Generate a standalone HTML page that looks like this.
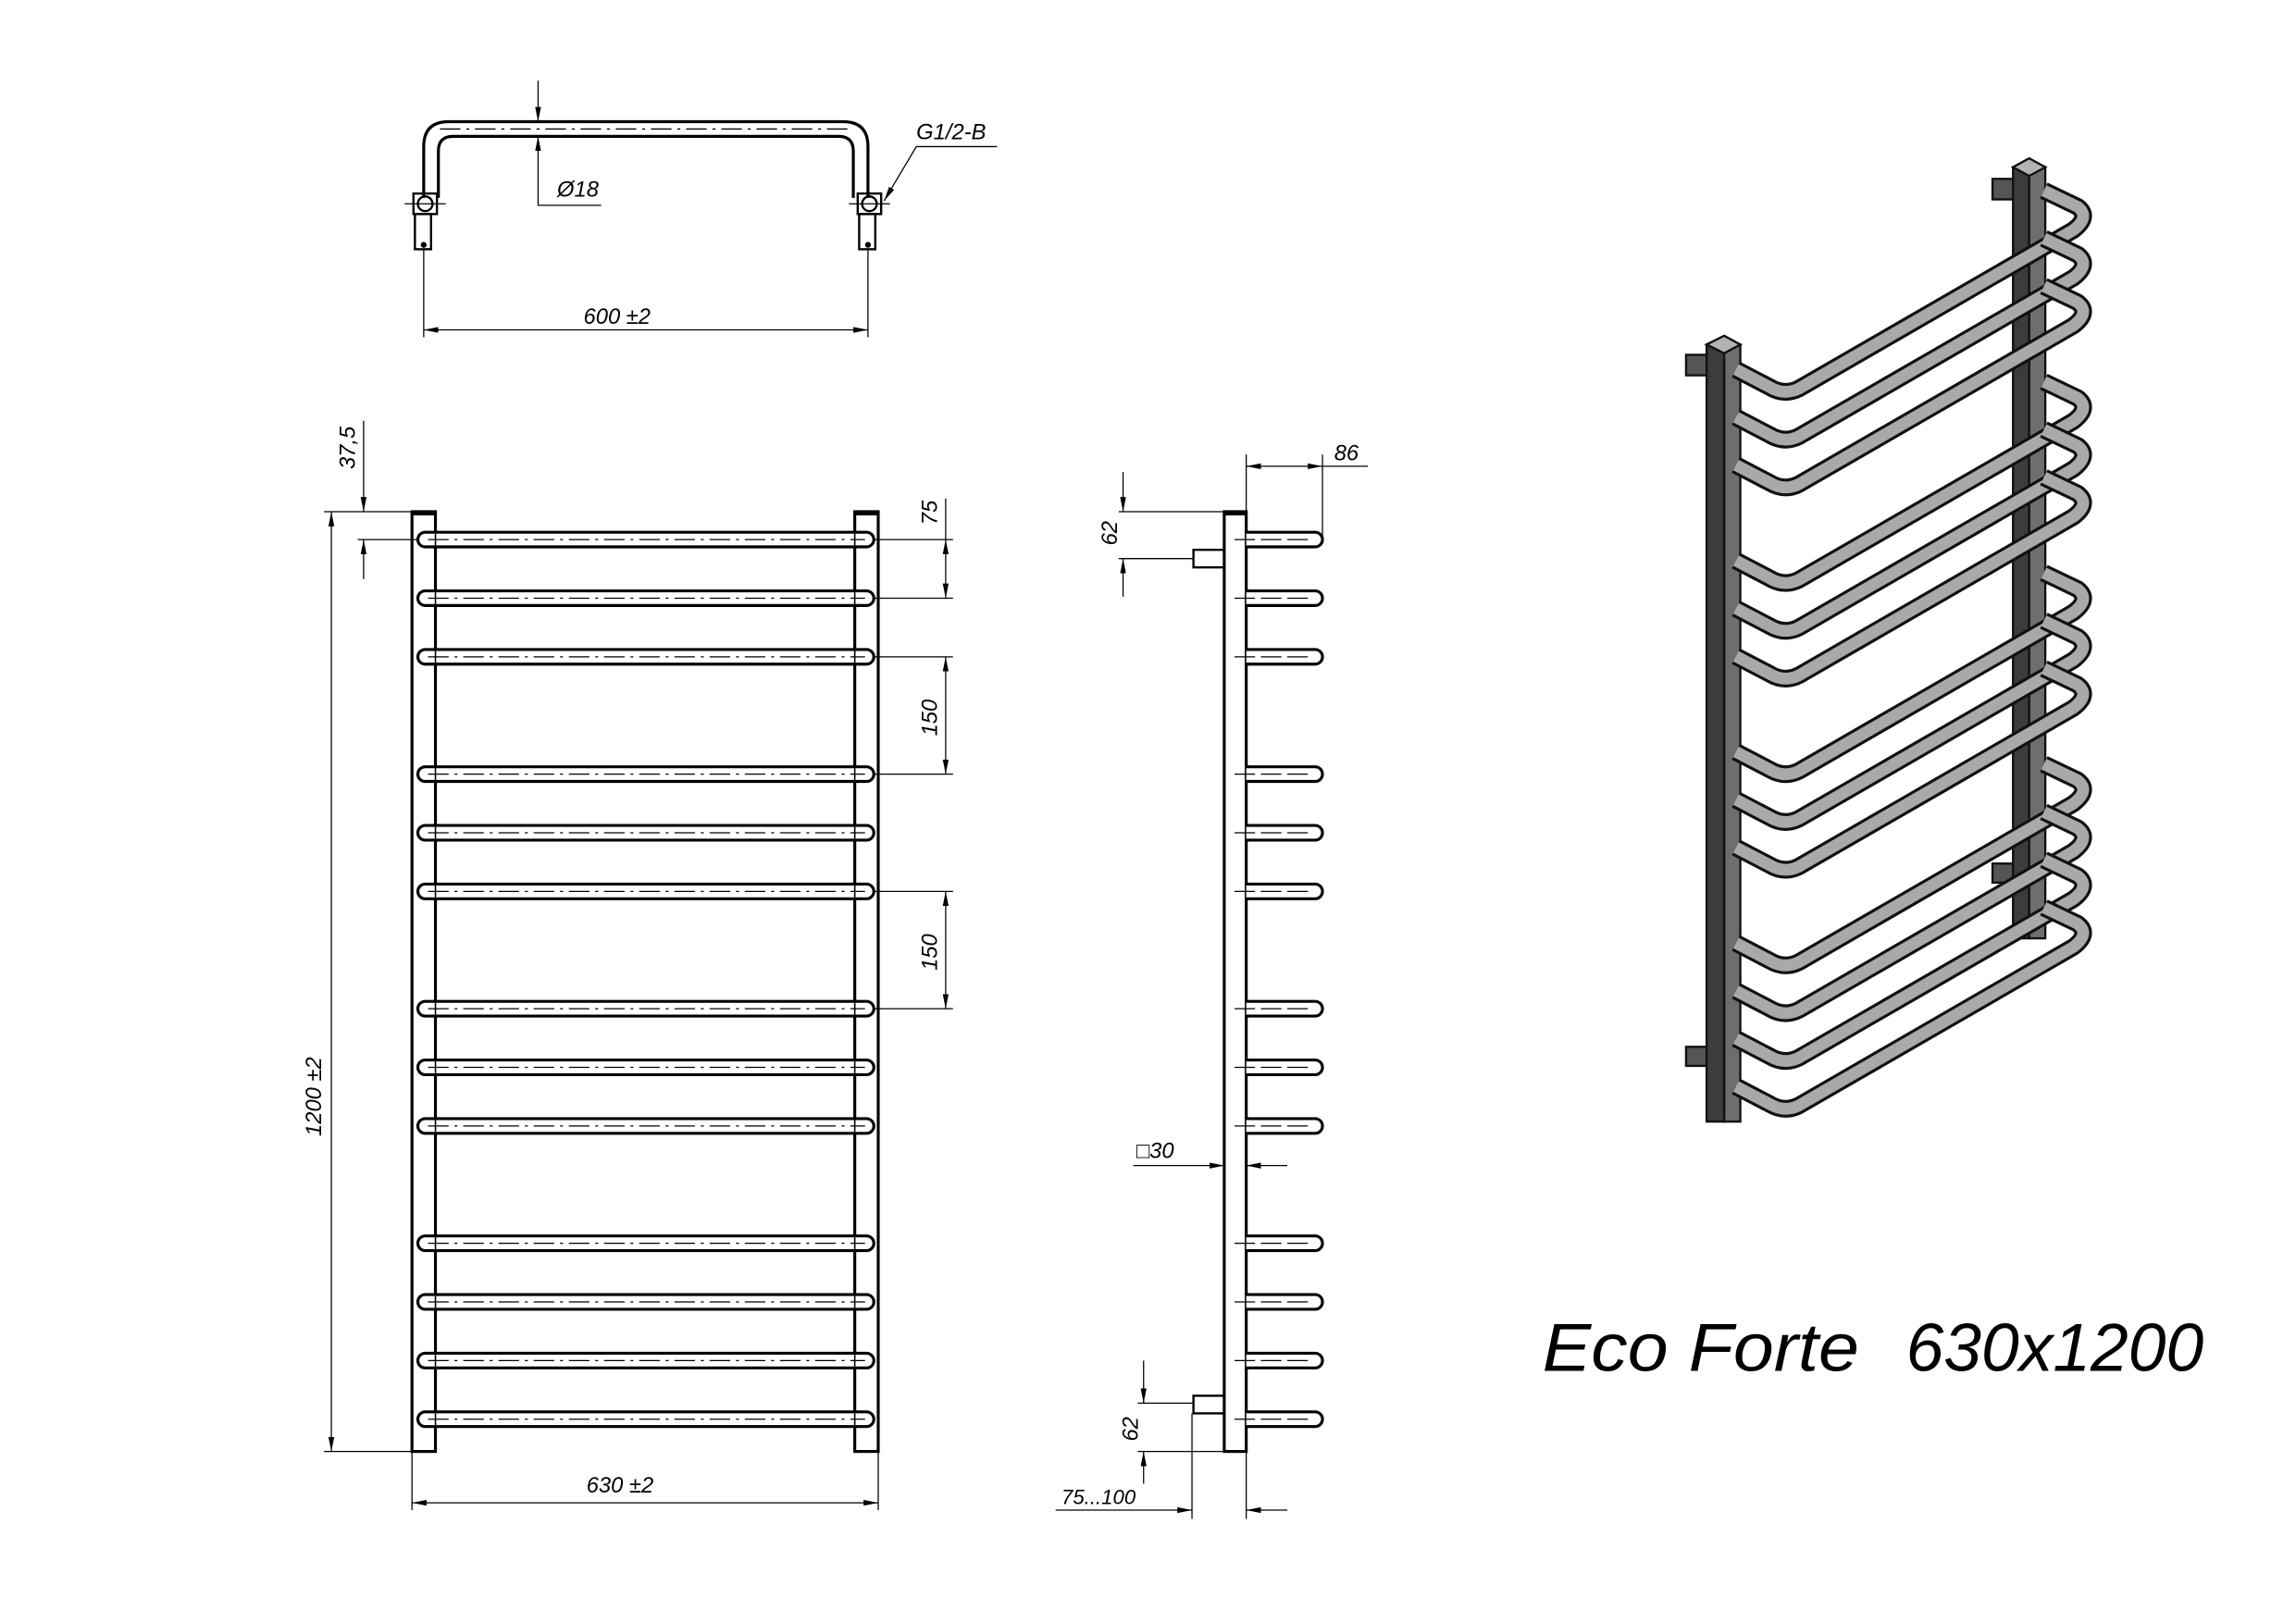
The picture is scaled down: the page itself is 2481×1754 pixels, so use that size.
<!DOCTYPE html>
<html><head><meta charset="utf-8"><style>html,body{margin:0;padding:0;background:#fff}svg{display:block}</style></head><body>
<svg width="2481" height="1754" viewBox="0 0 1566 1107" preserveAspectRatio="none" xmlns="http://www.w3.org/2000/svg" font-family="Liberation Sans, sans-serif" font-style="italic">
<defs>
<marker id="a" viewBox="0 0 10 4" refX="10" refY="2" markerWidth="10" markerHeight="4" orient="auto-start-reverse" markerUnits="userSpaceOnUse"><path d="M0,0 L10,2 L0,4 Z" fill="#000"/></marker>
<g id="fb"><rect x="285" y="-5" width="311" height="10" rx="5" fill="#fff" stroke="#000" stroke-width="2"/><line x1="297" y1="-4" x2="297" y2="4" stroke="#000" stroke-width="1"/><line x1="583" y1="-4" x2="583" y2="4" stroke="#000" stroke-width="1"/><line x1="292" y1="0" x2="590" y2="0" stroke="#000" stroke-width="0.8" stroke-dasharray="14,4,2,4"/></g>
<g id="sb"><path d="M850,-5 H897 A5,5 0 0 1 897,5 H850" fill="#fff" stroke="#000" stroke-width="2"/><line x1="842" y1="0" x2="892" y2="0" stroke="#000" stroke-width="0.8" stroke-dasharray="14,4"/></g>
<g id="ib"><path d="M1172,0 L1195,12 Q1205,18 1215,13 L1402,-95 Q1414,-104 1405,-111 L1382,-122" fill="none" stroke="#111" stroke-width="12" stroke-linejoin="round"/><path d="M1172,0 L1195,12 Q1205,18 1215,13 L1402,-95 Q1414,-104 1405,-111 L1382,-122" fill="none" stroke="#a9a9ab" stroke-width="8" stroke-linejoin="round"/></g>
</defs>
<g stroke="#000" fill="none">
<path d="M289,135 V100 Q289,83 306,83 H575 Q592,83 592,100 V135" stroke-width="2"/>
<path d="M299,135 V103 Q299,93 309,93 H572 Q582,93 582,103 V135" stroke-width="2"/>
<line x1="300" y1="88" x2="580" y2="88" stroke-width="0.8" stroke-dasharray="14,4,2,4"/>
<rect x="282" y="132" width="16" height="14" stroke-width="1.5"/><circle cx="290" cy="139" r="5" stroke-width="1.5"/>
<rect x="283" y="146" width="11" height="24" stroke-width="1.5"/><circle cx="289" cy="167" r="1.5" fill="#000"/>
<line x1="276" y1="139" x2="304" y2="139" stroke-width="0.8"/>
<rect x="585" y="132" width="16" height="14" stroke-width="1.5"/><circle cx="593" cy="139" r="5" stroke-width="1.5"/>
<rect x="586" y="146" width="11" height="24" stroke-width="1.5"/><circle cx="592" cy="167" r="1.5" fill="#000"/>
<line x1="579" y1="139" x2="607" y2="139" stroke-width="0.8"/>
<line x1="289" y1="170" x2="289" y2="230" stroke-width="0.8"/><line x1="592" y1="170" x2="592" y2="230" stroke-width="0.8"/>
<line x1="289" y1="225" x2="592" y2="225" stroke-width="0.8" marker-start="url(#a)" marker-end="url(#a)"/>
<line x1="367" y1="55" x2="367" y2="83" stroke-width="0.8" marker-end="url(#a)"/>
<line x1="367" y1="117" x2="367" y2="93" stroke-width="0.8" marker-end="url(#a)"/>
<polyline points="367,117 367,140 410,140" stroke-width="0.8"/>
<polyline points="680,100 625,100 603,137" stroke-width="0.8" marker-end="url(#a)"/>
<rect x="281" y="349" width="16" height="641" stroke-width="2"/>
<rect x="583" y="349" width="16" height="641" stroke-width="2"/>
<line x1="281" y1="350" x2="297" y2="350" stroke-width="3"/><line x1="583" y1="350" x2="599" y2="350" stroke-width="3"/>
<line x1="221" y1="349" x2="281" y2="349" stroke-width="0.8"/><line x1="221" y1="990" x2="281" y2="990" stroke-width="0.8"/>
<line x1="226" y1="349" x2="226" y2="990" stroke-width="0.8" marker-start="url(#a)" marker-end="url(#a)"/>
<line x1="244" y1="368" x2="285" y2="368" stroke-width="0.8"/>
<line x1="248" y1="287" x2="248" y2="349" stroke-width="0.8" marker-end="url(#a)"/>
<line x1="248" y1="395" x2="248" y2="368" stroke-width="0.8" marker-end="url(#a)"/>
<line x1="596" y1="368" x2="650" y2="368" stroke-width="0.8"/><line x1="596" y1="408" x2="650" y2="408" stroke-width="0.8"/>
<line x1="645" y1="340" x2="645" y2="368" stroke-width="0.8"/>
<line x1="645" y1="368" x2="645" y2="408" stroke-width="0.8" marker-start="url(#a)" marker-end="url(#a)"/>
<line x1="596" y1="448" x2="650" y2="448" stroke-width="0.8"/><line x1="596" y1="528" x2="650" y2="528" stroke-width="0.8"/>
<line x1="645" y1="448" x2="645" y2="528" stroke-width="0.8" marker-start="url(#a)" marker-end="url(#a)"/>
<line x1="596" y1="608" x2="650" y2="608" stroke-width="0.8"/><line x1="596" y1="688" x2="650" y2="688" stroke-width="0.8"/>
<line x1="645" y1="608" x2="645" y2="688" stroke-width="0.8" marker-start="url(#a)" marker-end="url(#a)"/>
<line x1="281" y1="990" x2="281" y2="1030" stroke-width="0.8"/><line x1="599" y1="990" x2="599" y2="1030" stroke-width="0.8"/>
<line x1="281" y1="1025" x2="599" y2="1025" stroke-width="0.8" marker-start="url(#a)" marker-end="url(#a)"/>
<rect x="835" y="349" width="15" height="641" stroke-width="2"/>
<line x1="835" y1="350" x2="850" y2="350" stroke-width="3"/>
<rect x="814" y="375" width="21" height="12" stroke-width="1.5"/>
<rect x="814" y="952" width="21" height="12" stroke-width="1.5"/>
<line x1="850" y1="310" x2="850" y2="349" stroke-width="0.8"/><line x1="902" y1="310" x2="902" y2="368" stroke-width="0.8"/>
<line x1="850" y1="318" x2="902" y2="318" stroke-width="0.8" marker-start="url(#a)" marker-end="url(#a)"/>
<line x1="902" y1="318" x2="933" y2="318" stroke-width="0.8"/>
<line x1="763" y1="349" x2="835" y2="349" stroke-width="0.8"/><line x1="763" y1="381" x2="814" y2="381" stroke-width="0.8"/>
<line x1="766" y1="322" x2="766" y2="349" stroke-width="0.8" marker-end="url(#a)"/>
<line x1="766" y1="407" x2="766" y2="381" stroke-width="0.8" marker-end="url(#a)"/>
<line x1="773" y1="795" x2="835" y2="795" stroke-width="0.8" marker-end="url(#a)"/>
<line x1="878" y1="795" x2="850" y2="795" stroke-width="0.8" marker-end="url(#a)"/>
<line x1="776" y1="957" x2="814" y2="957" stroke-width="0.8"/><line x1="776" y1="990" x2="835" y2="990" stroke-width="0.8"/>
<line x1="780" y1="928" x2="780" y2="957" stroke-width="0.8" marker-end="url(#a)"/>
<line x1="780" y1="1012" x2="780" y2="990" stroke-width="0.8" marker-end="url(#a)"/>
<line x1="813" y1="964" x2="813" y2="1036" stroke-width="0.8"/><line x1="850" y1="990" x2="850" y2="1036" stroke-width="0.8"/>
<line x1="720" y1="1030" x2="813" y2="1030" stroke-width="0.8" marker-end="url(#a)"/>
<line x1="878" y1="1030" x2="850" y2="1030" stroke-width="0.8" marker-end="url(#a)"/>
</g>
<g>
<use href="#fb" y="368"/><use href="#fb" y="408"/><use href="#fb" y="448"/><use href="#fb" y="528"/><use href="#fb" y="568"/><use href="#fb" y="608"/><use href="#fb" y="688"/><use href="#fb" y="728"/><use href="#fb" y="768"/><use href="#fb" y="848"/><use href="#fb" y="888"/><use href="#fb" y="928"/><use href="#fb" y="968"/>
<use href="#sb" y="368"/><use href="#sb" y="408"/><use href="#sb" y="448"/><use href="#sb" y="528"/><use href="#sb" y="568"/><use href="#sb" y="608"/><use href="#sb" y="688"/><use href="#sb" y="728"/><use href="#sb" y="768"/><use href="#sb" y="848"/><use href="#sb" y="888"/><use href="#sb" y="928"/><use href="#sb" y="968"/>
</g>
<g transform="translate(12,2)">
<g stroke="#111" stroke-width="1.5">
<rect x="1347" y="120" width="16" height="14" fill="#555"/>
<rect x="1347" y="587" width="16" height="13" fill="#555"/>
<rect x="1361" y="112" width="11" height="526" fill="#3c3c3c"/>
<rect x="1372" y="112" width="11" height="526" fill="#6e6e70"/>
<path d="M1361,112 L1372,106 L1383,112 L1372,118 Z" fill="#b3b3b0"/>
<rect x="1138" y="240" width="16" height="14" fill="#555"/>
<rect x="1138" y="712" width="16" height="13" fill="#555"/>
<rect x="1152" y="233" width="12" height="530" fill="#3c3c3c"/>
<rect x="1164" y="233" width="11" height="530" fill="#6e6e70"/>
<path d="M1152,233 L1164,227 L1175,233 L1164,239 Z" fill="#b3b3b0"/>
</g>
<use href="#ib" y="250"/><use href="#ib" y="282.6"/><use href="#ib" y="315.2"/><use href="#ib" y="380.4"/><use href="#ib" y="413"/><use href="#ib" y="445.6"/><use href="#ib" y="510.8"/><use href="#ib" y="543.4"/><use href="#ib" y="576"/><use href="#ib" y="641.2"/><use href="#ib" y="673.8"/><use href="#ib" y="706.4"/><use href="#ib" y="739"/>
</g>
<g font-size="15" fill="#000">
<text x="398" y="221">600 ±2</text>
<text x="380" y="134">Ø18</text>
<text x="625" y="95">G1/2-B</text>
<text x="400" y="1018">630 ±2</text>
<text transform="translate(219,775) rotate(-90)">1200 ±2</text>
<text transform="translate(242,320) rotate(-90)">37,5</text>
<text transform="translate(639,358) rotate(-90)">75</text>
<text transform="translate(639,502) rotate(-90)">150</text>
<text transform="translate(639,662) rotate(-90)">150</text>
<text x="910" y="314">86</text>
<text transform="translate(762,372) rotate(-90)">62</text>
<text x="775" y="790">□30</text>
<text transform="translate(776,983) rotate(-90)">62</text>
<text x="724" y="1026" font-size="14">75...100</text>
</g>
<text x="1052" y="935" font-size="46" textLength="216" lengthAdjust="spacingAndGlyphs">Eco Forte</text>
<text x="1300" y="935" font-size="46" textLength="203" lengthAdjust="spacingAndGlyphs">630x1200</text>
</svg>
</body></html>
